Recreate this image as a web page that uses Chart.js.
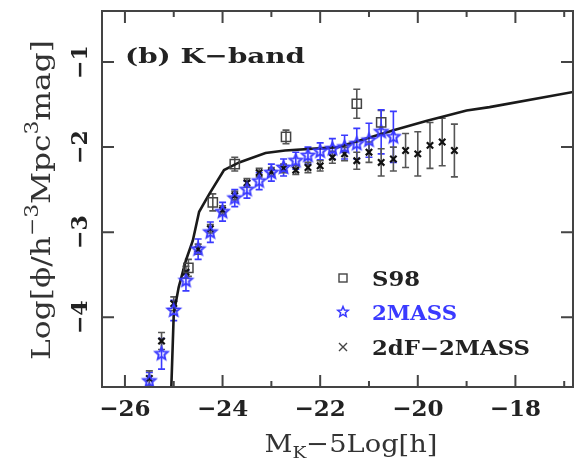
<!DOCTYPE html>
<html>
<head>
<meta charset="utf-8">
<script src="https://cdn.jsdelivr.net/npm/chart.js@4.4.1/dist/chart.umd.min.js"></script>
<style>
  html, body { margin: 0; padding: 0; background: #fff; }
  #wrap { width: 581px; height: 466px; }
</style>
</head>
<body>
<div id="wrap"><canvas id="lfChart"></canvas></div>
<script>
// axis ranges and ticks
const xMin = -26.47, xMax = -16.82;
const yMin = -4.82, yMax = -0.4;
const xTickLabels = [-26, -24, -22, -20, -18];
const xMinorTicks = [-25, -23, -21, -19, -17];
const yTickLabels = [-4, -3, -2, -1];

// model curve
const modelMag = [-25.06, -25.0, -24.9, -24.75, -24.61, -24.48, -24.27, -23.97, -23.66, -23.12, -22.72, -21.63, -21.17, -20.48, -19.81, -19.0, -18.53, -16.8];
const modelPhi = [-5.0, -3.96, -3.65, -3.33, -3.1, -2.76, -2.55, -2.27, -2.18, -2.07, -2.04, -2.0, -1.92, -1.80, -1.69, -1.57, -1.53, -1.35];

// S98
const s98Mag = [-24.7, -24.2, -23.75, -22.7, -21.25, -20.75];
const s98Phi = [-3.42, -2.65, -2.2, -1.88, -1.49, -1.71];
const s98Err = [0.1, 0.1, 0.08, 0.08, 0.17, 0.14];

// 2MASS
const massMag = [-25.5, -25.25, -25.0, -24.75, -24.5, -24.25, -24.0, -23.75, -23.5, -23.25, -23.0, -22.75, -22.5, -22.25, -22.0, -21.75, -21.5, -21.25, -21.0, -20.75, -20.5];
const massPhi = [-4.75, -4.43, -3.92, -3.57, -3.2, -3.0, -2.76, -2.6, -2.5, -2.4, -2.3, -2.24, -2.16, -2.1, -2.05, -2.02, -2.0, -1.96, -1.92, -1.82, -1.88];
const massErr = [0.1, 0.18, 0.12, 0.12, 0.12, 0.12, 0.11, 0.1, 0.1, 0.1, 0.1, 0.1, 0.1, 0.1, 0.1, 0.12, 0.14, 0.18, 0.2, 0.26, 0.3];

// 2dF-2MASS
const dfMag = [-25.5, -25.25, -25.0, -24.75, -24.5, -24.25, -24.0, -23.75, -23.5, -23.25, -23.0, -22.75, -22.5, -22.25, -22.0, -21.75, -21.5, -21.25, -21.0, -20.75, -20.5, -20.25, -20.0, -19.75, -19.5, -19.25];
const dfPhi = [-4.72, -4.28, -3.84, -3.47, -3.2, -2.96, -2.74, -2.57, -2.42, -2.3, -2.29, -2.25, -2.27, -2.24, -2.22, -2.12, -2.08, -2.16, -2.06, -2.18, -2.14, -2.04, -2.08, -1.98, -1.94, -2.04];
const dfErr = [0.09, 0.1, 0.08, 0.07, 0.06, 0.05, 0.05, 0.05, 0.05, 0.05, 0.05, 0.05, 0.05, 0.06, 0.06, 0.07, 0.08, 0.1, 0.12, 0.16, 0.14, 0.2, 0.26, 0.27, 0.28, 0.31];

const BLUE = '#3a3aff';
const INK = '#222';
const SERIF = '"DejaVu Serif", serif';

function pts(xs, ys) {
  return xs.map((x, i) => ({ x: x, y: ys[i] }));
}

// open five point star used for 2MASS
function makeStar(r, color, lw) {
  const c = document.createElement('canvas');
  const s = Math.ceil(2 * r + lw * 2 + 2);
  c.width = c.height = s;
  const g = c.getContext('2d');
  g.translate(s / 2, s / 2);
  g.beginPath();
  for (let i = 0; i < 10; i++) {
    const rad = i % 2 === 0 ? r : r * 0.45;
    const a = -Math.PI / 2 + i * Math.PI / 5;
    g.lineTo(rad * Math.cos(a), rad * Math.sin(a));
  }
  g.closePath();
  g.strokeStyle = color;
  g.lineWidth = lw;
  g.stroke();
  return c;
}
const starImg = makeStar(6.5, BLUE, 1.9);
const starSmall = makeStar(5.5, BLUE, 1.5);

// text helpers (wide serif look of the original)
function stretchText(ctx, parts, x, y, opts) {
  ctx.save();
  ctx.textBaseline = 'alphabetic';
  ctx.textAlign = 'left';
  let w = 0;
  parts.forEach(p => {
    ctx.font = (p.weight || 'normal') + ' ' + p.size + 'px ' + SERIF;
    p.w = ctx.measureText(p.t).width;
    w += p.w;
  });
  const sx = opts.width ? opts.width / w : (opts.sx || 1);
  ctx.translate(x, y);
  if (opts.rotate) ctx.rotate(opts.rotate);
  ctx.scale(sx, 1);
  let cx = opts.align === 'center' ? -w / 2 : 0;
  ctx.fillStyle = opts.color || INK;
  parts.forEach(p => {
    ctx.font = (p.weight || 'normal') + ' ' + p.size + 'px ' + SERIF;
    ctx.fillText(p.t, cx, p.dy || 0);
    cx += p.w;
  });
  ctx.restore();
}

const errorBars = {
  id: 'errorBars',
  beforeDatasetsDraw(chart) {
    const ctx = chart.ctx, xs = chart.scales.x, ys = chart.scales.y, a = chart.chartArea;
    ctx.save();
    ctx.beginPath();
    ctx.rect(a.left, a.top, a.right - a.left, a.bottom - a.top);
    ctx.clip();
    chart.data.datasets.forEach(ds => {
      if (!ds.yErr) return;
      ctx.strokeStyle = ds.errColor;
      ctx.lineWidth = 1.6;
      ds.data.forEach((p, i) => {
        const px = xs.getPixelForValue(p.x);
        const y1 = ys.getPixelForValue(p.y + ds.yErr[i]);
        const y2 = ys.getPixelForValue(p.y - ds.yErr[i]);
        ctx.beginPath();
        ctx.moveTo(px, y1); ctx.lineTo(px, y2);
        ctx.moveTo(px - 3.5, y1); ctx.lineTo(px + 3.5, y1);
        ctx.moveTo(px - 3.5, y2); ctx.lineTo(px + 3.5, y2);
        ctx.stroke();
      });
    });
    ctx.restore();
  }
};

const frame = {
  id: 'frame',
  afterDraw(chart) {
    const ctx = chart.ctx, xs = chart.scales.x, ys = chart.scales.y, a = chart.chartArea;
    ctx.save();
    ctx.strokeStyle = '#444';
    ctx.lineWidth = 2;
    ctx.strokeRect(a.left, a.top, a.right - a.left, a.bottom - a.top);
    ctx.beginPath();
    xTickLabels.forEach(v => {
      const px = xs.getPixelForValue(v);
      ctx.moveTo(px, a.bottom); ctx.lineTo(px, a.bottom - 12);
      ctx.moveTo(px, a.top); ctx.lineTo(px, a.top + 12);
    });
    xMinorTicks.forEach(v => {
      const px = xs.getPixelForValue(v);
      ctx.moveTo(px, a.bottom); ctx.lineTo(px, a.bottom - 6);
      ctx.moveTo(px, a.top); ctx.lineTo(px, a.top + 6);
    });
    yTickLabels.forEach(v => {
      const py = ys.getPixelForValue(v);
      ctx.moveTo(a.left, py); ctx.lineTo(a.left + 12, py);
      ctx.moveTo(a.right, py); ctx.lineTo(a.right - 12, py);
    });
    ctx.stroke();
    ctx.restore();

    // rotated y tick labels
    yTickLabels.forEach(v => {
      const py = ys.getPixelForValue(v);
      stretchText(ctx, [{ t: '\u2212' + Math.abs(v), size: 22, weight: 'bold' }], 87, py, { rotate: -Math.PI / 2, align: 'center', sx: 1 });
    });

    // axis titles
    stretchText(ctx, [
      { t: 'Log[\u03d5/h', size: 26 },
      { t: '\u22123', size: 18, dy: -12 },
      { t: 'Mpc', size: 26 },
      { t: '3', size: 18, dy: -12 },
      { t: 'mag]', size: 26 }
    ], 50, 200, { rotate: -Math.PI / 2, align: 'center', width: 320, color: '#333' });
    stretchText(ctx, [
      { t: 'M', size: 25 },
      { t: 'K', size: 17, dy: 6 },
      { t: '\u22125Log[h]', size: 25 }
    ], 351, 452, { align: 'center', width: 173, color: '#333' });

    // panel label
    stretchText(ctx, [{ t: '(b) K\u2212band', size: 21, weight: 'bold' }], 125, 63, { width: 180 });

    // legend
    const rows = [
      { label: 'S98', color: INK, y: 278, w: 48 },
      { label: '2MASS', color: BLUE, y: 312, w: 85 },
      { label: '2dF\u22122MASS', color: INK, y: 347, w: 158 }
    ];
    const mx = 343;
    ctx.save();
    ctx.strokeStyle = '#444';
    ctx.lineWidth = 1.4;
    ctx.strokeRect(mx - 4, rows[0].y - 4, 8, 8);
    ctx.drawImage(starSmall, mx - starSmall.width / 2, rows[1].y - starSmall.height / 2);
    ctx.beginPath();
    ctx.moveTo(mx - 4, rows[2].y - 4); ctx.lineTo(mx + 4, rows[2].y + 4);
    ctx.moveTo(mx + 4, rows[2].y - 4); ctx.lineTo(mx - 4, rows[2].y + 4);
    ctx.stroke();
    ctx.restore();
    rows.forEach(r => {
      stretchText(ctx, [{ t: r.label, size: 20, weight: 'bold' }], 372, r.y + 7.5, { width: r.w, color: r.color });
    });
  }
};

new Chart(document.getElementById('lfChart'), {
  type: 'scatter',
  data: {
    datasets: [
      {
        label: 'S98',
        data: pts(s98Mag, s98Phi),
        yErr: s98Err,
        errColor: '#555',
        pointStyle: 'rect',
        radius: 6.5,
        borderColor: '#444',
        backgroundColor: 'rgba(255,255,255,0)',
        borderWidth: 1.5
      },
      {
        label: '2MASS',
        data: pts(massMag, massPhi),
        yErr: massErr,
        errColor: BLUE,
        pointStyle: starImg,
        radius: 6.5
      },
      {
        label: '2dF-2MASS',
        data: pts(dfMag, dfPhi),
        yErr: dfErr,
        errColor: '#555',
        pointStyle: 'crossRot',
        radius: 4.5,
        borderColor: '#111',
        borderWidth: 2.2
      },
      {
        type: 'line',
        label: 'model',
        data: pts(modelMag, modelPhi),
        borderColor: '#1a1a1a',
        borderWidth: 2.6,
        pointRadius: 0,
        tension: 0,
        fill: false
      }
    ]
  },
  options: {
    responsive: true,
    maintainAspectRatio: false,
    animation: false,
    events: [],
    layout: { padding: { top: 11, right: 4, left: 0, bottom: 0 } },
    plugins: {
      legend: { display: false },
      tooltip: { enabled: false }
    },
    scales: {
      x: {
        type: 'linear',
        min: xMin,
        max: xMax,
        grid: { display: false, drawTicks: false },
        border: { display: false },
        afterBuildTicks: s => { s.ticks = xTickLabels.concat(xMinorTicks).sort((a, b) => a - b).map(v => ({ value: v })); },
        afterFit: s => { s.height = 79; },
        ticks: {
          autoSkip: false,
          maxRotation: 0,
          padding: 9,
          color: INK,
          font: { family: SERIF, size: 23, weight: 'bold' },
          callback: v => xTickLabels.includes(v) ? '\u2212' + Math.abs(v) : ''
        }
      },
      y: {
        type: 'linear',
        min: yMin,
        max: yMax,
        grid: { display: false, drawTicks: false },
        border: { display: false },
        ticks: { display: false },
        afterFit: s => { s.width = 102; }
      }
    }
  },
  plugins: [errorBars, frame]
});
</script>
</body>
</html>
